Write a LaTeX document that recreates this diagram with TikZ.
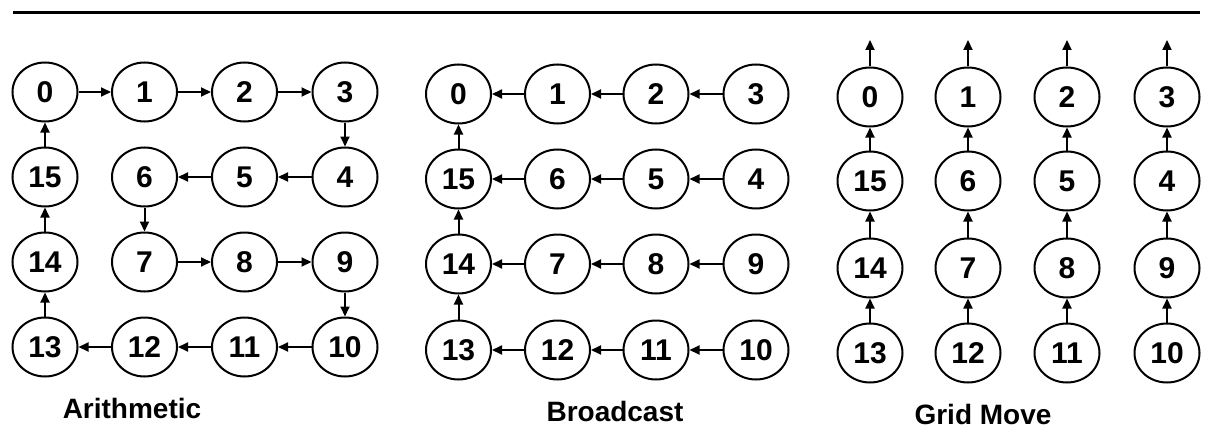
\documentclass[tikz,border=0pt]{standalone}
\usepackage{fontspec}
\setmainfont{Liberation Sans}
\usetikzlibrary{shapes.geometric,arrows.meta}
\begin{document}
\begin{tikzpicture}[x=1pt,y=-1pt,
  pe/.style={ellipse,draw,line width=2pt,minimum width=65pt,minimum height=59pt,inner sep=0pt,
    font=\fontsize{30}{30}\selectfont\bfseries},
  conn/.style={line width=2pt,-{Triangle[length=10pt,width=9pt]}},
  title/.style={anchor=base,font=\fontsize{28}{28}\selectfont\bfseries}]
\useasboundingbox (0,0) rectangle (1205,428);
\draw[line width=3pt] (13,13) -- (1200,13);
% layout: label / column / row
\def\layout{0/1/1,1/2/1,2/3/1,3/4/1,15/1/2,6/2/2,5/3/2,4/4/2,14/1/3,7/2/3,8/3/3,9/4/3,13/1/4,12/2/4,11/3/4,10/4/4}
% Arithmetic
\foreach \n/\c/\r in \layout {
  \pgfmathsetmacro{\xx}{{0,45,144.5,244.5,345}[\c]}
  \pgfmathsetmacro{\yy}{{0,92,177,262,347}[\r]}
  \node[pe] (a\n) at (\xx,\yy) {\n};
}
% Broadcast
\foreach \n/\c/\r in \layout {
  \pgfmathsetmacro{\xx}{{0,458.5,557.5,656,756}[\c]}
  \pgfmathsetmacro{\yy}{{0,94,179,264,350}[\r]}
  \node[pe] (b\n) at (\xx,\yy) {\n};
}
% Grid Move
\foreach \n/\c/\r in \layout {
  \pgfmathsetmacro{\xx}{{0,870,968,1067,1167}[\c]}
  \pgfmathsetmacro{\yy}{{0,97,181,268,353}[\r]}
  \node[pe] (g\n) at (\xx,\yy) {\n};
}
\coordinate (t0) at (870,40);
\coordinate (t1) at (968,40);
\coordinate (t2) at (1067,40);
\coordinate (t3) at (1167,40);
% Arithmetic connectors
\foreach \s/\t in {0/1,1/2,2/3,3/4,4/5,5/6,6/7,7/8,8/9,9/10,10/11,11/12,12/13,13/14,14/15,15/0}
  \draw[conn] (a\s) -- (a\t);
% Broadcast connectors
\foreach \s/\t in {3/2,2/1,1/0,4/5,5/6,6/15,9/8,8/7,7/14,10/11,11/12,12/13,13/14,14/15,15/0}
  \draw[conn] (b\s) -- (b\t);
% Grid Move connectors
\foreach \s/\t in {15/0,6/1,5/2,4/3,14/15,7/6,8/5,9/4,13/14,12/7,11/8,10/9}
  \draw[conn] (g\s) -- (g\t);
\foreach \s in {0,1,2,3}
  \draw[conn] (g\s) -- (t\s);
\node[title] (ta) at (132,418) {Arithmetic};
\node[title] (tb) at (615,421) {Broadcast};
\node[title] (tg) at (983,424) {Grid Move};
\end{tikzpicture}
\end{document}
